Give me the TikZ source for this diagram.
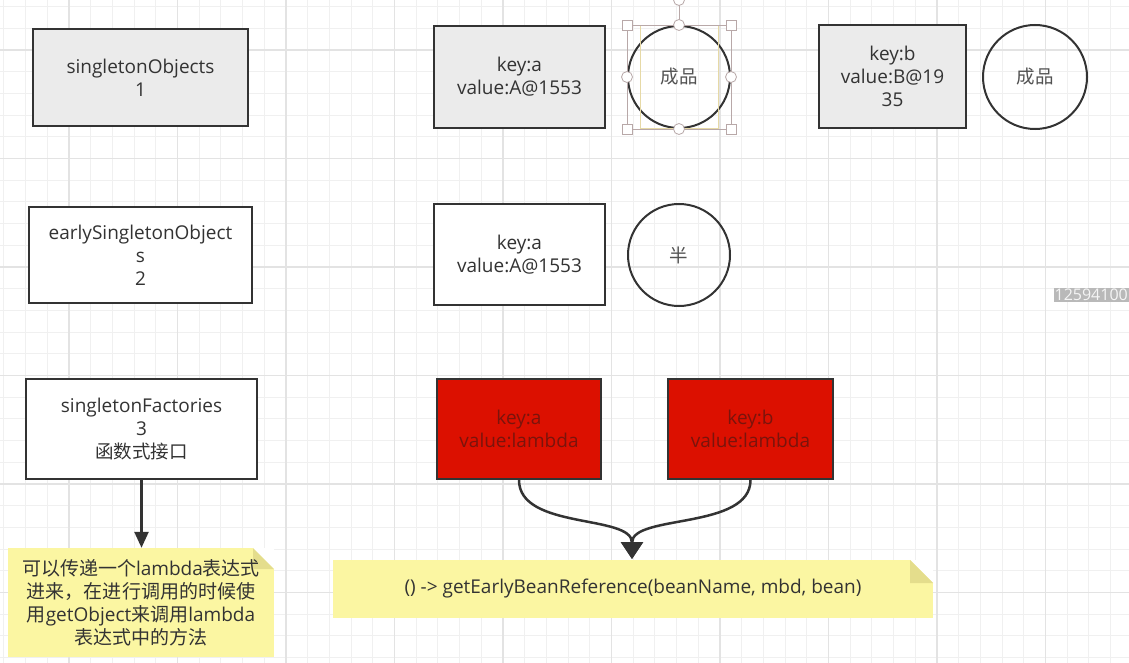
\documentclass[tikz,border=0pt]{standalone}
\usepackage{fontspec}
\setmainfont{Open Sans}
\newfontfamily\cjk{Noto Sans CJK SC}
\usetikzlibrary{positioning,arrows.meta}

\definecolor{gridminor}{HTML}{F0F0F0}
\definecolor{gridmajor}{HTML}{E3E3E3}
\definecolor{edge}{HTML}{333333}
\definecolor{boxgray}{HTML}{EBEBEB}
\definecolor{beanred}{HTML}{DC1000}
\definecolor{beantext}{HTML}{7A140C}
\definecolor{notey}{HTML}{FBF6A2}
\definecolor{notefold}{HTML}{E4DD8C}
\definecolor{selline}{HTML}{B8A8A8}
\definecolor{seltext}{HTML}{E6D9A6}

\tikzset{
  store/.style={draw=edge,line width=2pt,align=center,text=edge,inner sep=2pt,
    font=\fontsize{19}{23}\selectfont},
  bean/.style={store,minimum width=171pt,minimum height=102pt},
  state/.style={circle,draw=edge,line width=2pt,minimum size=102pt,inner sep=0pt,
    text=edge!85,font=\cjk\fontsize{18.5}{23}\selectfont},
  lambdabox/.style={store,fill=beanred,text=beantext,minimum width=164pt,minimum height=100pt},
  foldnote/.style={fill=notey,align=center,text=edge,inner sep=0pt,
    path picture={
      \fill[white] ([xshift=-#1]path picture bounding box.north east)
        -- (path picture bounding box.north east)
        -- ([yshift=-#1]path picture bounding box.north east) -- cycle;
      \fill[notefold] ([xshift=-#1]path picture bounding box.north east)
        -- ([xshift=-#1,yshift=-#1]path picture bounding box.north east)
        -- ([yshift=-#1]path picture bounding box.north east) -- cycle;}},
  flow/.style={draw=edge,line width=2.5pt,-{Triangle[length=16pt,width=14pt]}},
  merge/.style={draw=edge,line width=2.5pt,-{Triangle[length=17pt,width=22pt]}},
  hsq/.style={draw=selline,fill=white,line width=0.8pt,minimum size=10pt,inner sep=0pt},
  hdot/.style={circle,draw=selline,fill=white,line width=0.8pt,minimum size=11pt,inner sep=0pt}
}

\begin{document}
\begin{tikzpicture}[x=1pt,y=-1pt]
  \useasboundingbox (0,0) rectangle (1129,663);
  \fill[white] (0,0) rectangle (1129,663);
  % grid
  \foreach \i in {0,...,52}
    \draw[gridminor,line width=1pt] ({3.9+21.7*\i},0) -- ({3.9+21.7*\i},663);
  \foreach \j in {0,...,30}
    \draw[gridminor,line width=1pt] (0,{6.6+21.7*\j}) -- (1129,{6.6+21.7*\j});
  \foreach \i in {0,...,10}
    \draw[gridmajor,line width=1.5pt] ({69+108.5*\i},0) -- ({69+108.5*\i},663);
  \foreach \j in {0,...,5}
    \draw[gridmajor,line width=1.5pt] (0,{50+108.5*\j}) -- (1129,{50+108.5*\j});

  % three caches
  \node[store,fill=boxgray,minimum width=215pt,minimum height=97pt] (so) at (140.5,77.5)
    {singletonObjects\\1};
  \node[store,fill=white,minimum width=223pt,minimum height=96pt] (eso) at (140.5,255)
    {earlySingletonObject\\s\\2};
  \node[store,fill=white,minimum width=231pt,minimum height=100pt] (sf) at (141.5,429)
    {singletonFactories\\3\\{\cjk\fontsize{18.5}{23}\selectfont 函数式接口}};

  % first level
  \node[bean,fill=boxgray] (ka) at (519.5,77) {key:a\\value:A@1553};
  \node[state] (done a) at (679,77) {成品};
  \node[bean,fill=boxgray,minimum width=147pt,minimum height=103pt] (kb) at (892.5,76.5)
    {key:b\\value:B@19\\35};
  \node[state,minimum size=104pt] (done b) at (1035,77) {成品};

  % selection on the first circle
  \draw[seltext,line width=0.8pt] (640,25) rectangle (718,128);
  \draw[selline,line width=0.8pt] (done a.west |- done a.north) rectangle (done a.east |- done a.south);
  \draw[selline,line width=0.8pt] (done a.north) -- ++(0,-25) node[hdot] (rot) {};
  \foreach \c in {done a.west |- done a.north,done a.east |- done a.north,
                  done a.west |- done a.south,done a.east |- done a.south}
    \node[hsq] at (\c) {};
  \foreach \a in {north,south,east,west}
    \node[hdot] at (done a.\a) {};

  % second level
  \node[bean,fill=white,minimum height=101pt] (ka2) at (519.5,254.5) {key:a\\value:A@1553};
  \node[state] (half a) at (679,255) {半};

  % third level
  \node[lambdabox] (la) at (519,429) {key:a\\value:lambda};
  \node[lambdabox,minimum width=165pt] (lb) at (750.5,429) {key:b\\value:lambda};

  % notes
  \node[foldnote=21pt,minimum width=266pt,minimum height=109pt,
    font=\fontsize{19}{23}\selectfont] (tip) at (141,602.5)
    {{\cjk 可以传递一个}lambda{\cjk 表达式}\\{\cjk 进来，在进行调用的时候使}\\%
     {\cjk 用}getObject{\cjk 来调用}lambda\\{\cjk 表达式中的方法}};
  \node[foldnote=23pt,minimum width=600pt,minimum height=58pt,
    font=\fontsize{19}{23}\selectfont] (ref) at (633,589)
    {() -> getEarlyBeanReference(beanName, mbd, bean)};

  % connectors
  \draw[flow] (sf.south) -- (sf.south |- tip.north);
  \coordinate (join) at (632,559);
  \draw[merge] (la.south) .. controls +(0,50) and +(0,-45) .. (join);
  \draw[merge] (lb.south) .. controls +(0,50) and +(0,-45) .. (join);

  % overlay number
  \node[anchor=east,fill=gray!55,text=gray!8,inner sep=1pt,
    font=\fontsize{16}{18}\selectfont] (stamp) at (1129,295) {12594100};
\end{tikzpicture}
\end{document}
